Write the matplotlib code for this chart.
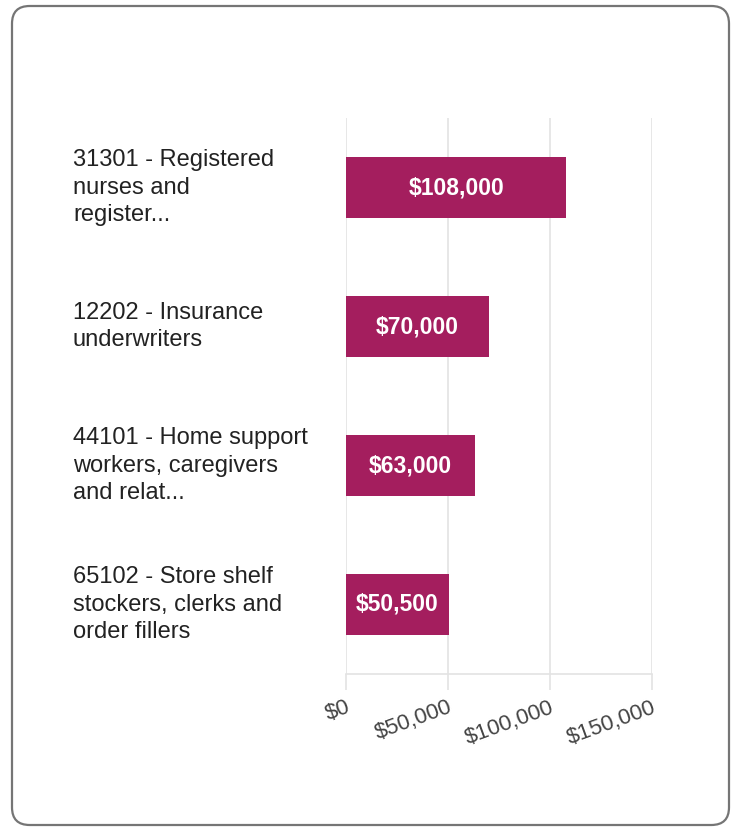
import matplotlib
matplotlib.use("Agg")
import matplotlib.pyplot as plt
from matplotlib.patches import FancyBboxPatch
from matplotlib.transforms import blended_transform_factory
from matplotlib.ticker import FuncFormatter

categories = [
    "31301 - Registered\nnurses and\nregister...",
    "12202 - Insurance\nunderwriters",
    "44101 - Home support\nworkers, caregivers\nand relat...",
    "65102 - Store shelf\nstockers, clerks and\norder fillers",
]
values = [108000, 70000, 63000, 50500]
xticks = [0, 50000, 100000, 150000]

W, H = 736, 827
fig = plt.figure(figsize=(W / 100, H / 100), dpi=100)
plt.rcParams['font.family'] = ['Liberation Sans', 'DejaVu Sans']

# rounded frame
frame = FancyBboxPatch((12 / W, 1 - 825 / H), (729 - 12) / W, (825 - 6) / H,
                       boxstyle="round,pad=0,rounding_size=0.024",
                       transform=fig.transFigure, facecolor='none',
                       edgecolor='#757575', linewidth=1.6, mutation_aspect=W / H,
                       zorder=10)
fig.patches.append(frame)

ax = fig.add_axes([346 / W, 1 - 674 / H, (652 - 346) / W, (674 - 118) / H])
ax.set_facecolor('none')
bar_color = '#A41E5E'
y = list(range(len(values)))
ax.barh(y, values, height=0.44, color=bar_color, zorder=3)
ax.set_ylim(len(values) - 0.5, -0.5)
ax.set_xlim(0, 150000)

for yi, v in zip(y, values):
    ax.text(v / 2, yi, f"${v:,.0f}", ha='center', va='center', color='white',
            fontsize=16.5, fontweight='bold', zorder=4)

trans = blended_transform_factory(fig.transFigure, ax.transData)
for yi, c in zip(y, categories):
    ax.text(73 / W, yi, c, transform=trans, ha='left', va='center',
            fontsize=17, color='#222222', linespacing=1.33)

ax.set_yticks([])
ax.set_xticks(xticks)
ax.xaxis.set_major_formatter(FuncFormatter(lambda x, p: f"${x:,.0f}"))
ax.grid(axis='x', color='#e3e3e3', linewidth=1.2, zorder=0)
for s in ['top', 'right', 'left']:
    ax.spines[s].set_visible(False)
ax.spines['bottom'].set_color('#e3e3e3')
ax.spines['bottom'].set_linewidth(1.2)
ax.tick_params(axis='x', length=11.5, width=1.2, color='#e3e3e3',
               labelsize=16, labelcolor='#444444', pad=5)
for lbl in ax.get_xticklabels():
    lbl.set_rotation(20)
    lbl.set_ha('right')
    lbl.set_va('top')
    lbl.set_rotation_mode('anchor')

fig.savefig("out.png", dpi=100)
